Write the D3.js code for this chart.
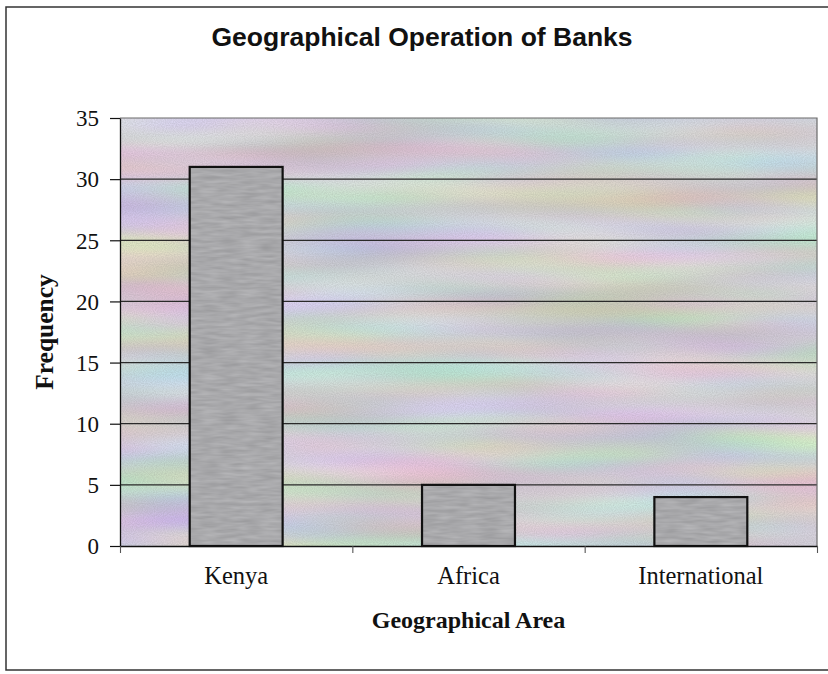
<!DOCTYPE html>
<html>
<head>
<meta charset="utf-8">
<script src="https://cdn.jsdelivr.net/npm/d3@7"></script>
<style>
  html, body { margin: 0; padding: 0; background: #fff; }
  svg { display: block; }
</style>
</head>
<body>
<svg id="chart" width="828" height="674"></svg>
<script>
// Data
const categories = ["Kenya", "Africa", "International"];
const frequencies = [31, 5, 4];
const yTicks = [0, 5, 10, 15, 20, 25, 30, 35];

const chartTitle = "Geographical Operation of Banks";
const xTitle = "Geographical Area";
const yTitle = "Frequency";

const W = 828, H = 674;
const plot = { left: 120, right: 817, top: 118, bottom: 546 };

const svg = d3.select("#chart");
const defs = svg.append("defs");

// Muted pastel banded texture for the plot area
const bg = defs.append("filter").attr("id", "pastel")
  .attr("x", 0).attr("y", 0).attr("width", 1).attr("height", 1)
  .attr("color-interpolation-filters", "sRGB");
bg.append("feTurbulence").attr("type", "fractalNoise")
  .attr("baseFrequency", "0.004 0.028").attr("numOctaves", 2).attr("seed", 7)
  .attr("result", "bands");
bg.append("feColorMatrix").attr("in", "bands").attr("type", "matrix")
  .attr("values", "0.30 0 0 0 0.68  0 0.30 0 0 0.68  0 0 0.30 0 0.69  0 0 0 0 1")
  .attr("result", "tint");
bg.append("feTurbulence").attr("type", "fractalNoise")
  .attr("baseFrequency", "0.9").attr("numOctaves", 1).attr("seed", 3)
  .attr("result", "grain");
bg.append("feColorMatrix").attr("in", "grain").attr("type", "matrix")
  .attr("values", "0 0 0 0 0.45  0 0 0 0 0.45  0 0 0 0 0.45  0 0 0 0.35 -0.1")
  .attr("result", "grainA");
bg.append("feComposite").attr("in", "grainA").attr("in2", "tint").attr("operator", "over");

// Grainy grey for bars
const barTex = defs.append("filter").attr("id", "bartex")
  .attr("x", 0).attr("y", 0).attr("width", 1).attr("height", 1)
  .attr("color-interpolation-filters", "sRGB");
barTex.append("feTurbulence").attr("type", "fractalNoise")
  .attr("baseFrequency", "0.05 0.3").attr("numOctaves", 2).attr("seed", 11)
  .attr("result", "n");
barTex.append("feColorMatrix").attr("in", "n").attr("type", "matrix")
  .attr("values", "0.14 0 0 0 0.59  0.14 0 0 0 0.59  0.14 0 0 0 0.60  0 0 0 0 1");

// Outer page frame
svg.append("rect")
  .attr("x", 6).attr("y", 7).attr("width", 840).attr("height", 663)
  .attr("fill", "none").attr("stroke", "#333").attr("stroke-width", 1.5);

// Scales
const x = d3.scaleBand().domain(categories)
  .range([plot.left, plot.right]).paddingInner(0.6).paddingOuter(0.3);
const xEdge = d3.scaleLinear().domain([0, categories.length])
  .range([plot.left, plot.right]);
const y = d3.scaleLinear().domain([0, 35]).range([plot.bottom, plot.top]);

// Plot background
svg.append("rect")
  .attr("x", plot.left).attr("y", plot.top)
  .attr("width", plot.right - plot.left).attr("height", plot.bottom - plot.top)
  .attr("fill", "#d6d3d8").attr("filter", "url(#pastel)");

// Horizontal gridlines
svg.append("g").selectAll("line").data(yTicks.filter(d => d > 0 && d < 35)).join("line")
  .attr("x1", plot.left).attr("x2", plot.right)
  .attr("y1", d => y(d)).attr("y2", d => y(d))
  .attr("stroke", "#2a2a2a").attr("stroke-width", 1.2);

// Plot top and right border
svg.append("path")
  .attr("d", `M${plot.left},${y(35)}H${plot.right}V${plot.bottom}`)
  .attr("fill", "none").attr("stroke", "#6a6a6a").attr("stroke-width", 1.2);

// Bars
svg.append("g").selectAll("rect").data(categories).join("rect")
  .attr("x", d => x(d))
  .attr("y", (d, i) => y(frequencies[i]))
  .attr("width", x.bandwidth())
  .attr("height", (d, i) => y(0) - y(frequencies[i]))
  .attr("fill", "#a9a9ab")
  .attr("filter", "url(#bartex)");
svg.append("g").selectAll("rect").data(categories).join("rect")
  .attr("x", d => x(d))
  .attr("y", (d, i) => y(frequencies[i]))
  .attr("width", x.bandwidth())
  .attr("height", (d, i) => y(0) - y(frequencies[i]))
  .attr("fill", "none").attr("stroke", "#111").attr("stroke-width", 2.2);

// Y axis
const yAxis = svg.append("g").attr("transform", `translate(${plot.left},0)`)
  .call(d3.axisLeft(y).tickValues(yTicks).tickSize(10).tickPadding(11).tickSizeOuter(0));
yAxis.select(".domain").attr("stroke", "#111").attr("stroke-width", 1.3);
yAxis.selectAll(".tick line").attr("stroke", "#111").attr("stroke-width", 1.2);
yAxis.selectAll(".tick text")
  .attr("font-family", "'Liberation Serif', 'Times New Roman', serif")
  .attr("font-size", 23).attr("fill", "#111").attr("dy", "0.34em");

// X axis: boundary ticks between categories
const xEdgeAxis = svg.append("g").attr("transform", `translate(0,${plot.bottom})`)
  .call(d3.axisBottom(xEdge).tickValues(d3.range(categories.length + 1))
    .tickFormat("").tickSize(7).tickSizeOuter(0));
xEdgeAxis.select(".domain").attr("stroke", "#111").attr("stroke-width", 1.3);
xEdgeAxis.selectAll(".tick line").attr("stroke", "#555").attr("stroke-width", 1.1);

// X axis: category labels
const xAxis = svg.append("g").attr("transform", `translate(0,${plot.bottom})`)
  .call(d3.axisBottom(x).tickSize(0).tickPadding(21));
xAxis.select(".domain").remove();
xAxis.selectAll(".tick text")
  .attr("font-family", "'Liberation Serif', 'Times New Roman', serif")
  .attr("font-size", 24.5).attr("fill", "#111");

// Titles
svg.append("text")
  .attr("x", 422).attr("y", 46).attr("text-anchor", "middle")
  .attr("font-family", "'Liberation Sans', Arial, sans-serif")
  .attr("font-weight", "bold").attr("font-size", 26.5).attr("fill", "#111")
  .text(chartTitle);

svg.append("text")
  .attr("x", (plot.left + plot.right) / 2).attr("y", 628).attr("text-anchor", "middle")
  .attr("font-family", "'Liberation Serif', 'Times New Roman', serif")
  .attr("font-weight", "bold").attr("font-size", 24).attr("fill", "#111")
  .text(xTitle);

svg.append("text")
  .attr("transform", `translate(53,${(plot.top + plot.bottom) / 2}) rotate(-90)`)
  .attr("text-anchor", "middle")
  .attr("font-family", "'Liberation Serif', 'Times New Roman', serif")
  .attr("font-weight", "bold").attr("font-size", 25.5).attr("fill", "#111")
  .text(yTitle);
</script>
</body>
</html>
